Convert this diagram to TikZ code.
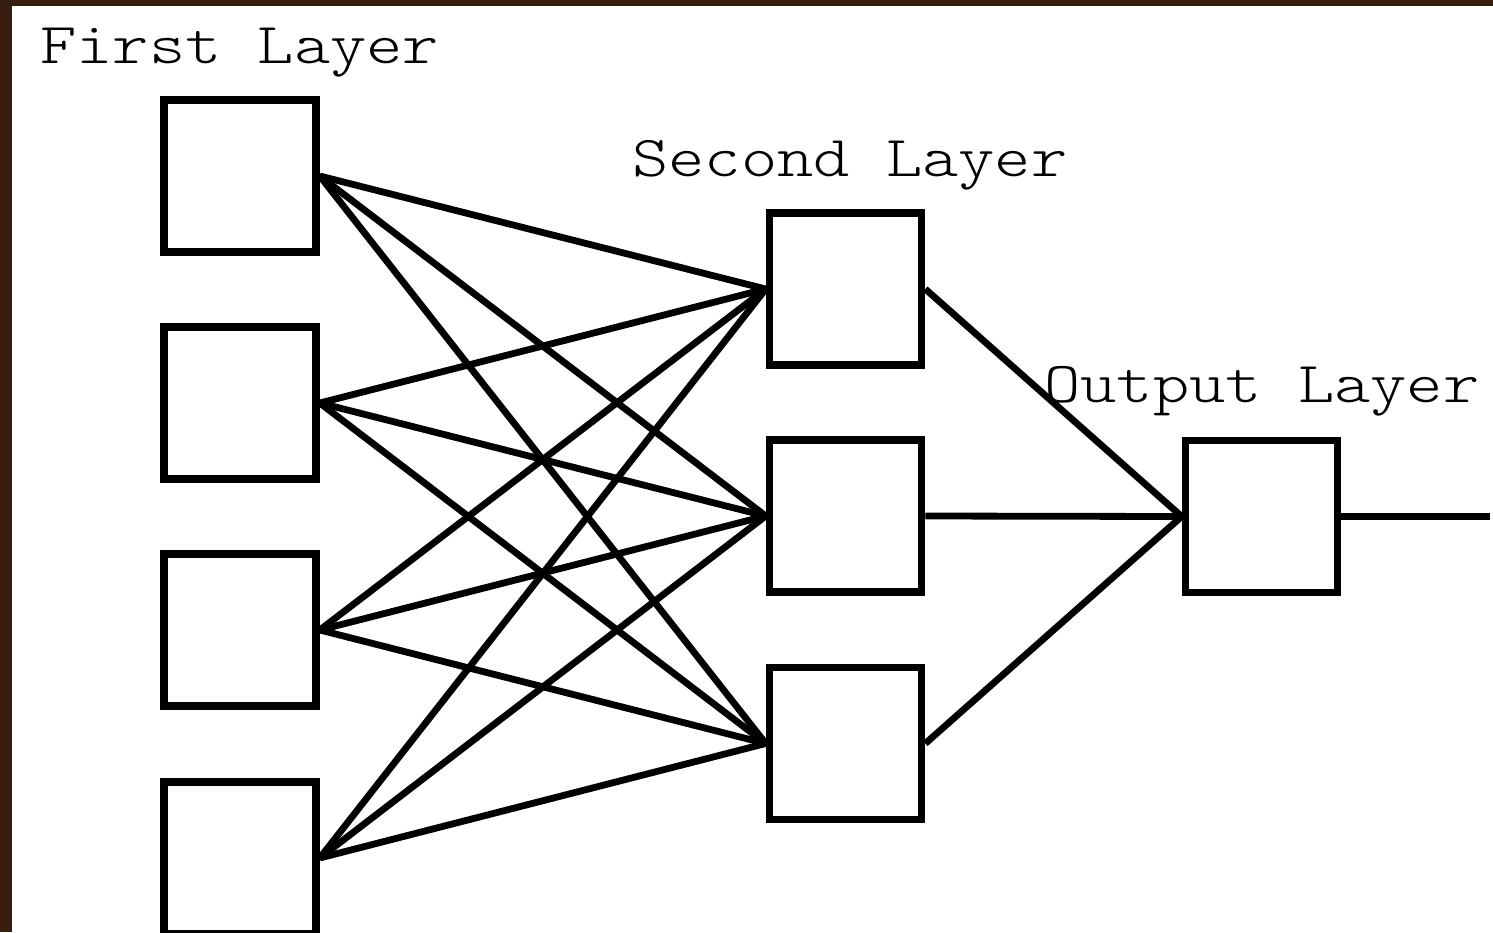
\documentclass[tikz,border=0pt]{standalone}
\usepackage{graphicx}
\usepackage{fontspec}
\newfontfamily\lighttt{Latin Modern Mono Light}
\definecolor{frame}{RGB}{56,30,14}
\newcommand{\widetext}[1]{\scalebox{1.19}[1]{#1}}
\begin{document}
\begin{tikzpicture}[x=0.5pt,y=-0.5pt,
  unit/.style={draw=black, line width=3.8pt, fill=white, inner sep=0pt, minimum size=76pt, shape=rectangle},
  link/.style={draw=black, line width=3.4pt},
  layerlabel/.style={anchor=base west, inner sep=0pt, font=\lighttt\fontsize{29pt}{29pt}\selectfont}]
\fill[frame] (0,0) rectangle (1493,932);
\fill[white] (12,6) rectangle (1493,932);
\useasboundingbox (0,0) rectangle (1493,932);
% first layer
\node[unit] (a1) at (240,176) {};
\node[unit] (a2) at (240,403) {};
\node[unit] (a3) at (240,630) {};
\node[unit] (a4) at (240,858) {};
% second layer
\node[unit] (b1) at (845.5,289) {};
\node[unit] (b2) at (845.5,516) {};
\node[unit] (b3) at (845.5,743.5) {};
% output
\node[unit] (c1) at (1261.5,516.5) {};
\coordinate (out) at (1490,516.5);
% labels
\node[layerlabel] (l1) at (40,63) {\widetext{First Layer}};
\node[layerlabel] (l2) at (632,176) {\widetext{Second Layer}};
\node[layerlabel] (l3) at (1044,402) {\widetext{Output Layer}};
% connections
\foreach \i in {a1,a2,a3,a4}{
  \foreach \j in {b1,b2,b3}{
    \draw[link] (\i.east) -- (\j.west);
  }
}
\foreach \j in {b1,b2,b3}{
  \draw[link] (\j.east) -- (c1.west);
}
\draw[link] (c1.east) -- (out);
\end{tikzpicture}
\end{document}
